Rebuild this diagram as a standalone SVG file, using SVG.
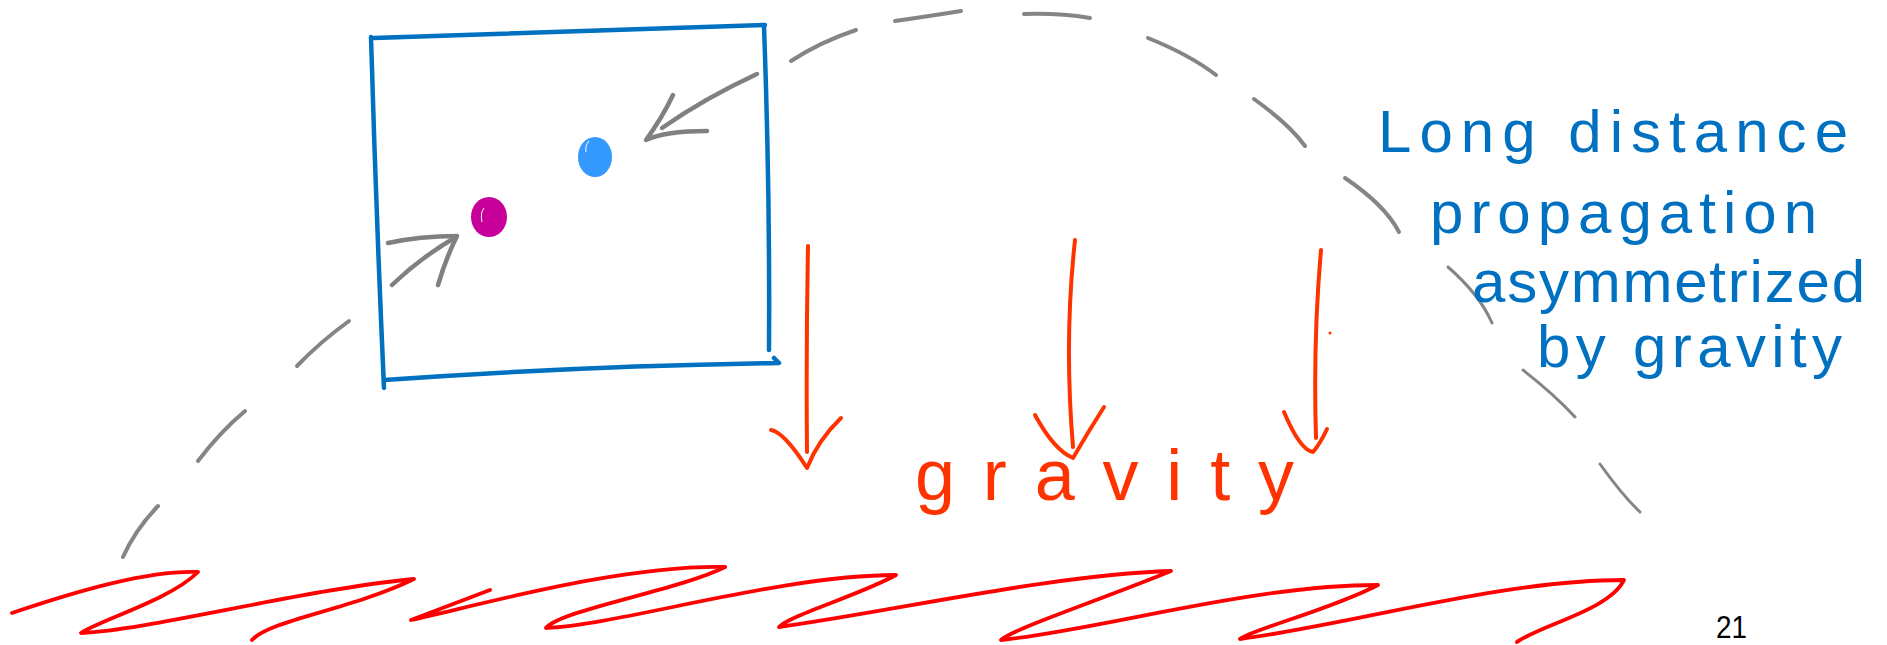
<svg xmlns="http://www.w3.org/2000/svg" width="1887" height="645" viewBox="0 0 1887 645">
<style>
.box{fill:none;stroke:#0070C0;stroke-width:4.5;stroke-linecap:round;stroke-linejoin:round}
.grey{fill:none;stroke:#808080;stroke-width:4.5;stroke-linecap:round;stroke-linejoin:round}
.dash{fill:none;stroke:#858585;stroke-width:4;stroke-linecap:round}
.thin{stroke-width:3}
.rarrow{fill:none;stroke:#FF3300;stroke-width:4;stroke-linecap:round;stroke-linejoin:round}
.ground{fill:none;stroke:#FF0000;stroke-width:3.8;stroke-linecap:round;stroke-linejoin:round}
.bluetxt{font-family:"Liberation Sans","DejaVu Sans",sans-serif;font-size:60px;fill:#0070C0}
.redtxt{font-family:"Liberation Sans","DejaVu Sans",sans-serif;font-size:72px;fill:#FF3300}
.num{font-family:"Liberation Sans",Arial,sans-serif;font-size:31px;fill:#000}
</style>
<rect width="1887" height="645" fill="#fff"/>

<g id="box">
  <path class="box" d="M374,38 Q560,31 765,25"/>
  <path class="box" d="M764,26 Q770,190 769,350"/>
  <path class="box" d="M774,358 L779,363 Q580,366 384,380"/>
  <path class="box" d="M371,37 Q376,210 384,388"/>
</g>

<g id="dot-blue">
  <ellipse cx="595" cy="157" rx="17" ry="20" fill="#3399FF"/>
  <path d="M586,152 Q585,145 589,141" stroke="#fff" stroke-width="1" fill="none"/>
</g>
<g id="dot-magenta">
  <ellipse cx="489" cy="217" rx="18" ry="20" fill="#C8009A"/>
  <path d="M482,222 Q480,213 484,208" stroke="#fff" stroke-width="1" fill="none"/>
</g>

<g id="connectors">
  <g id="arrow-to-blue">
    <path class="grey" d="M757,74 Q705,98 662,128"/>
    <path class="grey" d="M673,95 Q662,118 646,140 Q665,131 707,131"/>
  </g>
  <g id="arrow-to-magenta">
    <path class="grey" d="M392,285 Q420,258 456,237"/>
    <path class="grey" d="M388,243 Q420,236 457,236 Q446,258 438,285"/>
  </g>
  <g id="dashed-arc">
    <path class="dash" d="M349,321 Q320,342 297,366"/>
    <path class="dash" d="M245,411 Q220,432 198,461"/>
    <path class="dash" d="M158,506 Q135,530 123,557"/>
    <path class="dash" d="M791,61 Q820,42 856,30"/>
    <path class="dash" d="M895,21 Q930,16 961,11"/>
    <path class="dash" d="M1024,14 Q1060,13 1090,18"/>
    <path class="dash" d="M1148,38 Q1190,55 1216,75"/>
    <path class="dash" d="M1254,99 Q1290,125 1305,146"/>
    <path class="dash" d="M1345,178 Q1385,205 1399,232"/>
    <path class="dash thin" d="M1448,267 Q1480,295 1492,323"/>
    <path class="dash thin" d="M1523,370 Q1555,395 1575,417"/>
    <path class="dash thin" d="M1600,464 Q1622,495 1640,512"/>
  </g>
  <g id="gravity-arrows">
    <path class="rarrow" d="M808,246 Q806,350 807,452"/>
    <path class="rarrow" d="M771,430 Q784,432 807,468 Q818,440 841,418"/>
    <path class="rarrow" d="M1075,240 Q1064,340 1073,447"/>
    <path class="rarrow" d="M1035,415 Q1054,450 1073,458 Q1088,432 1104,407"/>
    <path class="rarrow" d="M1321,250 Q1313,340 1316,438"/>
    <path class="rarrow" d="M1284,412 Q1300,450 1313,452 Q1320,444 1327,429"/>
    <circle cx="1330" cy="333" r="1.5" fill="#FF3300"/>
  </g>
</g>

<g id="ground">
  <path class="ground" stroke-width="2" d="M12,613 C80,590 150,570 198,572 C170,600 100,620 81,633 C150,630 300,590 414,579 C350,610 270,620 252,640"/>
  <path class="ground" stroke-width="2" d="M490,590 L411,620 C480,605 620,565 725,567"/>
  <path class="ground" d="M725,567 C680,590 560,610 546,628 C620,625 780,575 896,575 C860,595 790,615 779,627 C900,610 1050,575 1171,571 C1100,600 1010,630 1001,640 C1100,630 1250,585 1378,585 C1330,610 1250,630 1240,639 C1350,625 1500,580 1624,580 C1610,610 1540,625 1517,642"/>
</g>

<g id="label-gravity">
  <text class="redtxt" x="915" y="500" textLength="379" lengthAdjust="spacing">gravity</text>
</g>

<g id="label-propagation">
  <text class="bluetxt" x="1378" y="152" textLength="470" lengthAdjust="spacing">Long distance</text>
  <text class="bluetxt" x="1430" y="233" textLength="387" lengthAdjust="spacing">propagation</text>
  <text class="bluetxt" x="1472" y="302" textLength="393" lengthAdjust="spacing">asymmetrized</text>
  <text class="bluetxt" x="1537" y="367" textLength="305" lengthAdjust="spacing">by gravity</text>
</g>

<g id="page-number">
  <text class="num" x="1716" y="638" textLength="31" lengthAdjust="spacingAndGlyphs">21</text>
</g>
</svg>
